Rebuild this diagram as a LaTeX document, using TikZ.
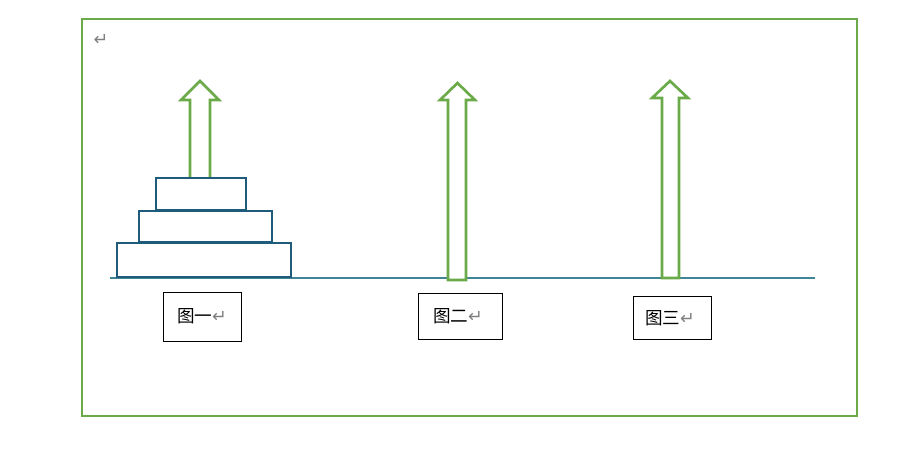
\documentclass[tikz,border=0pt]{standalone}
\usepackage{fontspec}
\newfontfamily\cjk{Noto Sans CJK SC}
\newfontfamily\dv{DejaVu Sans}
\definecolor{fgreen}{HTML}{6AAA48}
\definecolor{disc}{HTML}{1F5B7A}
\definecolor{groundcol}{HTML}{3F8595}
\begin{document}
\begin{tikzpicture}[x=0.02cm,y=-0.02cm,
  upar/.style={draw=fgreen,line width=1.5pt,fill=white,line join=miter},
  discbox/.style={draw=disc,line width=1.7pt},
  boxl/.style={draw=black,line width=0.5pt},
  lab/.style={font=\cjk\fontsize{10pt}{12pt}\selectfont},
  ret/.style={text=gray,font=\dv\fontsize{10pt}{12pt}\selectfont}]
\useasboundingbox (0,0) rectangle (904,459);
\draw[draw=fgreen,line width=1.3pt] (82,19) rectangle (857,416);
\node[ret] (r0) at (101,40) {↵};
\draw[draw=groundcol,line width=0.6pt] (110,278) -- (815,278);
% arrows
\draw[upar] (190,178) -- (190,100) -- (181,100) -- (200,81) -- (219,100) -- (210,100) -- (210,178);
\draw[upar] (448,280) -- (448,100) -- (440,100) -- (457.5,83) -- (475,100) -- (466,100) -- (466,280) -- cycle;
\draw[upar] (662,278) -- (662,98) -- (652,98) -- (670,81) -- (688,98) -- (679,98) -- (679,278) -- cycle;
% discs
\draw[discbox] (156,178) rectangle (246,210);
\draw[discbox] (139,211) rectangle (272,242);
\draw[discbox] (117,243) rectangle (291,277);
% labels
\draw[boxl] (163,292) rectangle (241,341);
\node[lab] (l1) at (202,316) {图一\textcolor{gray}{\dv ↵}};
\draw[boxl] (418,293) rectangle (502,339);
\node[lab] (l2) at (458,316) {图二\textcolor{gray}{\dv ↵}};
\draw[boxl] (633,296) rectangle (711,339);
\node[lab] (l3) at (670,318) {图三\textcolor{gray}{\dv ↵}};
\end{tikzpicture}
\end{document}
